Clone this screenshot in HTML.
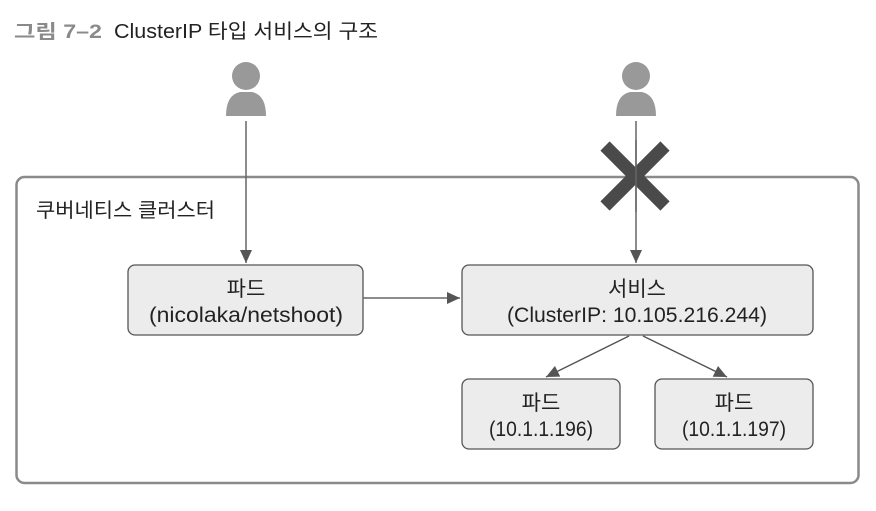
<!DOCTYPE html>
<html><head><meta charset="utf-8"><style>
body{margin:0;background:#fff;width:876px;height:506px;overflow:hidden}
svg text{font-family:"Liberation Sans","Noto Sans CJK KR",sans-serif;fill:#222}
</style></head><body>
<svg width="876" height="506" xmlns="http://www.w3.org/2000/svg">
<defs><marker id="b" markerWidth="14" markerHeight="14" refX="13" refY="6" orient="auto" markerUnits="userSpaceOnUse"><path d="M0,0 L13,6 L0,12 z" fill="#555"/></marker></defs>
<text x="14" y="38" font-size="19" font-weight="bold" style="fill:#8a8a8a" textLength="88" lengthAdjust="spacingAndGlyphs">그림 7–2</text>
<text x="114" y="38" font-size="20" textLength="264" lengthAdjust="spacingAndGlyphs">ClusterIP 타입 서비스의 구조</text>
<rect x="16.5" y="177" width="842" height="306" rx="8" fill="none" stroke="#8a8a8a" stroke-width="2.5"/>
<text x="36" y="217" font-size="20" textLength="179" lengthAdjust="spacingAndGlyphs">쿠버네티스 클러스터</text>
<g fill="#999"><circle cx="246" cy="76" r="14"/><path d="M226,116 Q226,95 240,92 L252,92 Q266,95 266,116 z"/>
<circle cx="636" cy="76" r="14"/><path d="M616,116 Q616,95 630,92 L642,92 Q656,95 656,116 z"/></g>
<line x1="246" y1="121" x2="246" y2="263" stroke="#666" stroke-width="1.5" marker-end="url(#b)"/>
<line x1="636" y1="121" x2="636" y2="263" stroke="#666" stroke-width="1.5" marker-end="url(#b)"/>
<g stroke="#4a4a4a" stroke-width="13"><line x1="605" y1="146" x2="665" y2="206"/><line x1="665" y1="146" x2="605" y2="206"/></g>
<line x1="636" y1="140" x2="636" y2="212" stroke="#666" stroke-width="1.5"/>
<g fill="#ececec" stroke="#555" stroke-width="1.3">
<rect x="128" y="265" width="235" height="70" rx="7"/>
<rect x="462" y="265" width="351" height="70" rx="7"/>
<rect x="462" y="379" width="158" height="70" rx="7"/>
<rect x="655" y="379" width="158" height="70" rx="7"/>
</g>
<line x1="363" y1="298" x2="460" y2="298" stroke="#666" stroke-width="1.5" marker-end="url(#b)"/>
<line x1="629" y1="336" x2="546" y2="377" stroke="#555" stroke-width="1.5" marker-end="url(#b)"/>
<line x1="643" y1="336" x2="727" y2="377" stroke="#555" stroke-width="1.5" marker-end="url(#b)"/>
<g font-size="21" text-anchor="middle">
<text x="246" y="296">파드</text><text x="246" y="322" textLength="194" lengthAdjust="spacingAndGlyphs">(nicolaka/netshoot)</text>
<text x="637" y="296">서비스</text><text x="637" y="322" textLength="260" lengthAdjust="spacingAndGlyphs">(ClusterIP: 10.105.216.244)</text>
<text x="541" y="410">파드</text><text x="541" y="436" textLength="104" lengthAdjust="spacingAndGlyphs">(10.1.1.196)</text>
<text x="734" y="410">파드</text><text x="734" y="436" textLength="104" lengthAdjust="spacingAndGlyphs">(10.1.1.197)</text>
</g>
</svg>
</body></html>
